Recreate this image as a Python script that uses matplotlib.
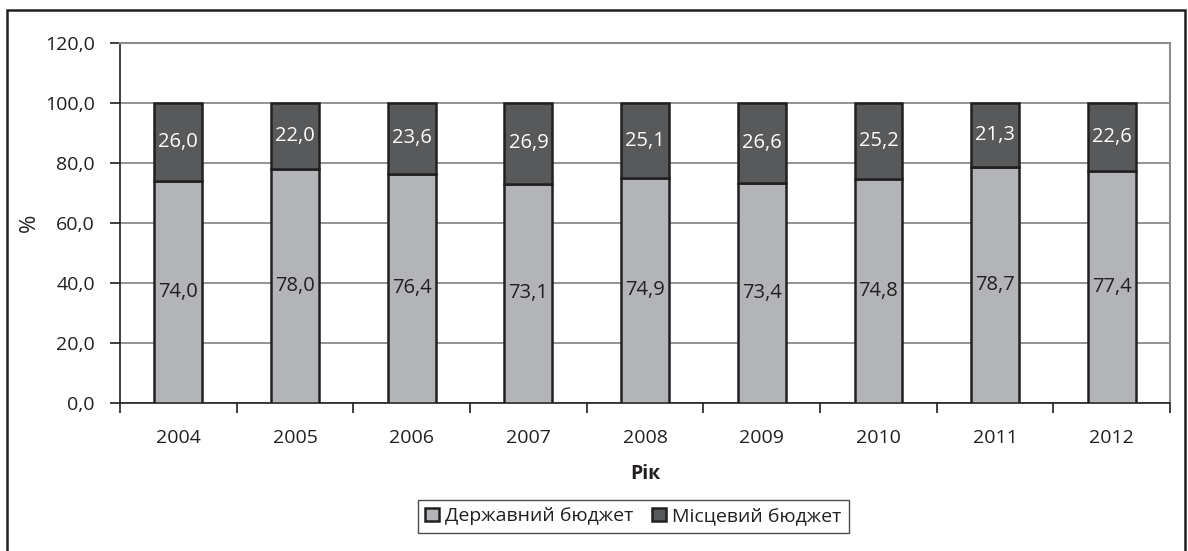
import matplotlib
matplotlib.use("Agg")
import matplotlib.pyplot as plt
from matplotlib.patches import Rectangle
import numpy as np

plt.rcParams["font.family"] = ["Open Sans", "DejaVu Sans"]

YEARS = ["2004", "2005", "2006", "2007", "2008", "2009", "2010", "2011", "2012"]
STATE = [74.0, 78.0, 76.4, 73.1, 74.9, 73.4, 74.8, 78.7, 77.4]
LOCAL = [26.0, 22.0, 23.6, 26.9, 25.1, 26.6, 25.2, 21.3, 22.6]
SERIES_LABELS = ["Державний бюджет", "Місцевий бюджет"]

LIGHT = "#b3b4b7"
DARK = "#58595b"
INK = "#231f20"

fig = plt.figure(figsize=(11.88, 5.51), dpi=100)
ax = fig.add_axes([0.101, 0.269, 0.884, 0.653])

x = np.arange(len(YEARS))
w = 0.41
b1 = ax.bar(x, STATE, w, color=LIGHT, edgecolor=INK, linewidth=1.8,
            label=SERIES_LABELS[0], zorder=3)
b2 = ax.bar(x, LOCAL, w, bottom=STATE, color=DARK, edgecolor=INK,
            linewidth=1.8, label=SERIES_LABELS[1], zorder=3)

fmt = lambda v: f"{v:.1f}".replace(".", ",")
for xi, s, l in zip(x, STATE, LOCAL):
    ax.text(xi, s / 2, fmt(s), ha="center", va="center", fontsize=14.5,
            color=INK, zorder=4)
    ax.text(xi, s + l / 2, fmt(l), ha="center", va="center", fontsize=14.5,
            color="white", zorder=4)

ax.set_xlim(-0.5, len(YEARS) - 0.5)
ax.set_ylim(0, 120)
ax.set_yticks(np.arange(0, 121, 20))
ax.set_yticklabels([fmt(v) for v in np.arange(0, 121, 20)], fontsize=14,
                   color=INK)
ax.yaxis.grid(True, color="#808080", linewidth=1.2, zorder=0)
ax.set_axisbelow(True)

ax.set_xticks(x)
ax.set_xticklabels(YEARS, fontsize=14, color=INK)
ax.tick_params(axis="x", which="major", length=0, pad=19)
ax.set_xticks(np.arange(-0.5, len(YEARS), 1), minor=True)
ax.tick_params(axis="x", which="minor", length=7, width=1.2, color=INK)
ax.tick_params(axis="y", length=7, width=1.2, color=INK, pad=11)

for side in ["top", "right"]:
    ax.spines[side].set_color("#8c8c8c")
    ax.spines[side].set_linewidth(1.5)
for side in ["left", "bottom"]:
    ax.spines[side].set_color(INK)
    ax.spines[side].set_linewidth(1.2)

ax.set_xlabel("Рік", fontsize=14, fontweight="bold", color=INK, labelpad=12)
ax.set_ylabel("%", fontsize=16, color=INK, labelpad=4)

leg = fig.legend(handles=[b1, b2], loc="center", bbox_to_anchor=(0.533, 0.063),
                 ncol=2, fontsize=14, frameon=True, fancybox=False,
                 handlelength=0.7, handleheight=0.7, handletextpad=0.3,
                 columnspacing=1.0, borderpad=0.4)
leg.get_frame().set_edgecolor(INK)
leg.get_frame().set_linewidth(1.0)
for t in leg.get_texts():
    t.set_color(INK)

fig.patches.append(Rectangle((7 / 1188, -0.05), 1178 / 1188, 1.05 - 10 / 551,
                             transform=fig.transFigure, fill=False,
                             edgecolor=INK, linewidth=1.8))

fig.savefig("out.png", dpi=100)
